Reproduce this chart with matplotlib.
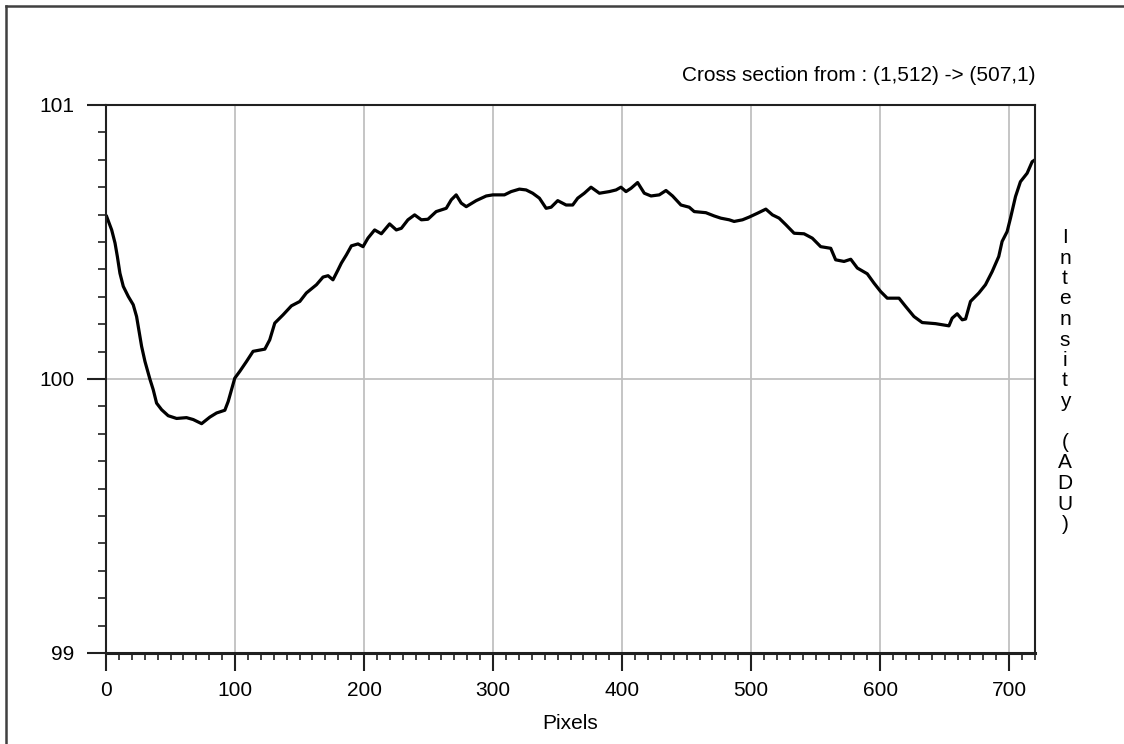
import numpy as np
import matplotlib.pyplot as plt
from matplotlib.lines import Line2D

# Cross section profile
pixels = [0.5, 4.4, 7, 8.8, 10.8, 13.4, 17.3, 21.1, 23.7, 25.8, 27.6, 30.2, 34, 36.6, 39.2,
          43.1, 48.2, 54.7, 62.4, 67.6, 74.1, 80.5, 85.7, 92.1, 94.7, 97.3, 99.8, 103.7,
          108.9, 114, 123.1, 126.9, 130.8, 137.2, 143.7, 150.2, 155.3, 163.1, 168.2,
          172.1, 175.9, 179.8, 182.4, 186.3, 190.2, 195.3, 199.2, 203, 208.2, 213.4,
          219.8, 225, 228.9, 234, 239.2, 244.4, 249.5, 255.9, 263.7, 267.6, 271.4, 275.3,
          279.2, 286.9, 294.7, 299.8, 308.8, 314, 320.4, 325.6, 330.7, 335.9, 341.1, 345,
          350.1, 356.6, 361.7, 365.6, 370.7, 375.9, 382.4, 390.1, 395.3, 399.1, 403,
          406.9, 412, 417.2, 422.4, 428.8, 434, 439.1, 445.6, 452, 455.9, 464.9, 471.4,
          476.5, 483, 486.8, 493.3, 498.5, 504.9, 511.4, 516.5, 521.7, 526.9, 533.3, 541,
          547.4, 553.9, 561.7, 565.5, 572, 577.2, 582.3, 590, 595.2, 600.4, 605.5, 614.6,
          619.7, 626.2, 632.6, 642.9, 653.3, 655.8, 659.7, 663.6, 666.2, 670, 676.5,
          681.6, 686.8, 691.9, 694.5, 698.4, 701, 704.9, 708.7, 713.9, 717.8, 720]
intensity = [100.593, 100.544, 100.496, 100.447, 100.386, 100.338, 100.301, 100.271,
             100.228, 100.168, 100.119, 100.064, 100.0, 99.961, 99.912, 99.888, 99.866,
             99.856, 99.859, 99.852, 99.837, 99.861, 99.876, 99.886, 99.918, 99.961,
             100.003, 100.028, 100.064, 100.101, 100.109, 100.143, 100.204, 100.234,
             100.267, 100.283, 100.314, 100.344, 100.372, 100.377, 100.362, 100.398,
             100.423, 100.453, 100.486, 100.493, 100.483, 100.514, 100.544, 100.530,
             100.566, 100.544, 100.550, 100.581, 100.599, 100.581, 100.583, 100.611,
             100.623, 100.654, 100.672, 100.642, 100.629, 100.651, 100.668, 100.672,
             100.672, 100.684, 100.693, 100.690, 100.678, 100.660, 100.623, 100.627,
             100.651, 100.635, 100.635, 100.660, 100.678, 100.700, 100.678, 100.684,
             100.690, 100.700, 100.684, 100.696, 100.717, 100.678, 100.668, 100.672,
             100.688, 100.668, 100.635, 100.627, 100.611, 100.607, 100.595, 100.587,
             100.581, 100.575, 100.581, 100.591, 100.605, 100.620, 100.599, 100.587,
             100.563, 100.532, 100.530, 100.514, 100.483, 100.477, 100.435, 100.429,
             100.437, 100.405, 100.384, 100.350, 100.319, 100.295, 100.295, 100.265,
             100.228, 100.206, 100.202, 100.194, 100.222, 100.238, 100.216, 100.219,
             100.283, 100.314, 100.344, 100.392, 100.447, 100.502, 100.538, 100.587,
             100.666, 100.720, 100.751, 100.793, 100.80]

x_ticks = [0, 100, 200, 300, 400, 500, 600, 700]
y_ticks = [99, 100, 101]
title = "Cross section from : (1,512) -> (507,1)"

plt.rcParams['font.family'] = ['Liberation Sans', 'DejaVu Sans']
fs = 15

fig = plt.figure(figsize=(11.24, 7.44), dpi=100)
ax = fig.add_axes([106 / 1124, 1 - 653 / 744, 929 / 1124, 548 / 744])

ax.plot(pixels, intensity, color='black', lw=2.3, solid_joinstyle='round')

ax.set_xlim(0, 720)
ax.set_ylim(99, 101)
ax.set_xticks(x_ticks)
ax.set_yticks(y_ticks)
ax.set_xticks(np.arange(0, 721, 10), minor=True)
ax.set_yticks(np.arange(99, 101.01, 0.1), minor=True)
ax.grid(True, which='major', color='#c0c0c0', lw=1.3)
ax.set_axisbelow(True)

ax.tick_params(axis='both', which='both', direction='out', colors='#202020',
               labelsize=fs, labelcolor='black')
ax.tick_params(axis='x', which='major', length=13, width=1.5, pad=7)
ax.tick_params(axis='x', which='minor', length=5, width=1.2)
ax.tick_params(axis='y', which='major', length=14, width=1.5, pad=9)
ax.tick_params(axis='y', which='minor', length=6, width=1.2)

for s in ax.spines.values():
    s.set_color('#202020')
    s.set_linewidth(1.5)
ax.spines['bottom'].set_linewidth(2.2)

ax.set_xlabel('Pixels', fontsize=fs, labelpad=10)
ax.set_title(title, loc='right', fontsize=fs, pad=17)

# stacked vertical label on the right
fig.text(1065 / 1124, 1 - 381 / 744, "\n".join("Intensity (ADU)"), fontsize=fs,
         ha='center', va='center', linespacing=1.1, multialignment='center')

# window border (top and left edges)
fig.add_artist(Line2D([6 / 1124, 6 / 1124], [0, 1 - 6 / 744], transform=fig.transFigure,
                      color='#404040', lw=1.8))
fig.add_artist(Line2D([6 / 1124, 1], [1 - 6 / 744, 1 - 6 / 744], transform=fig.transFigure,
                      color='#404040', lw=1.8))

fig.savefig('out.png', dpi=100)
